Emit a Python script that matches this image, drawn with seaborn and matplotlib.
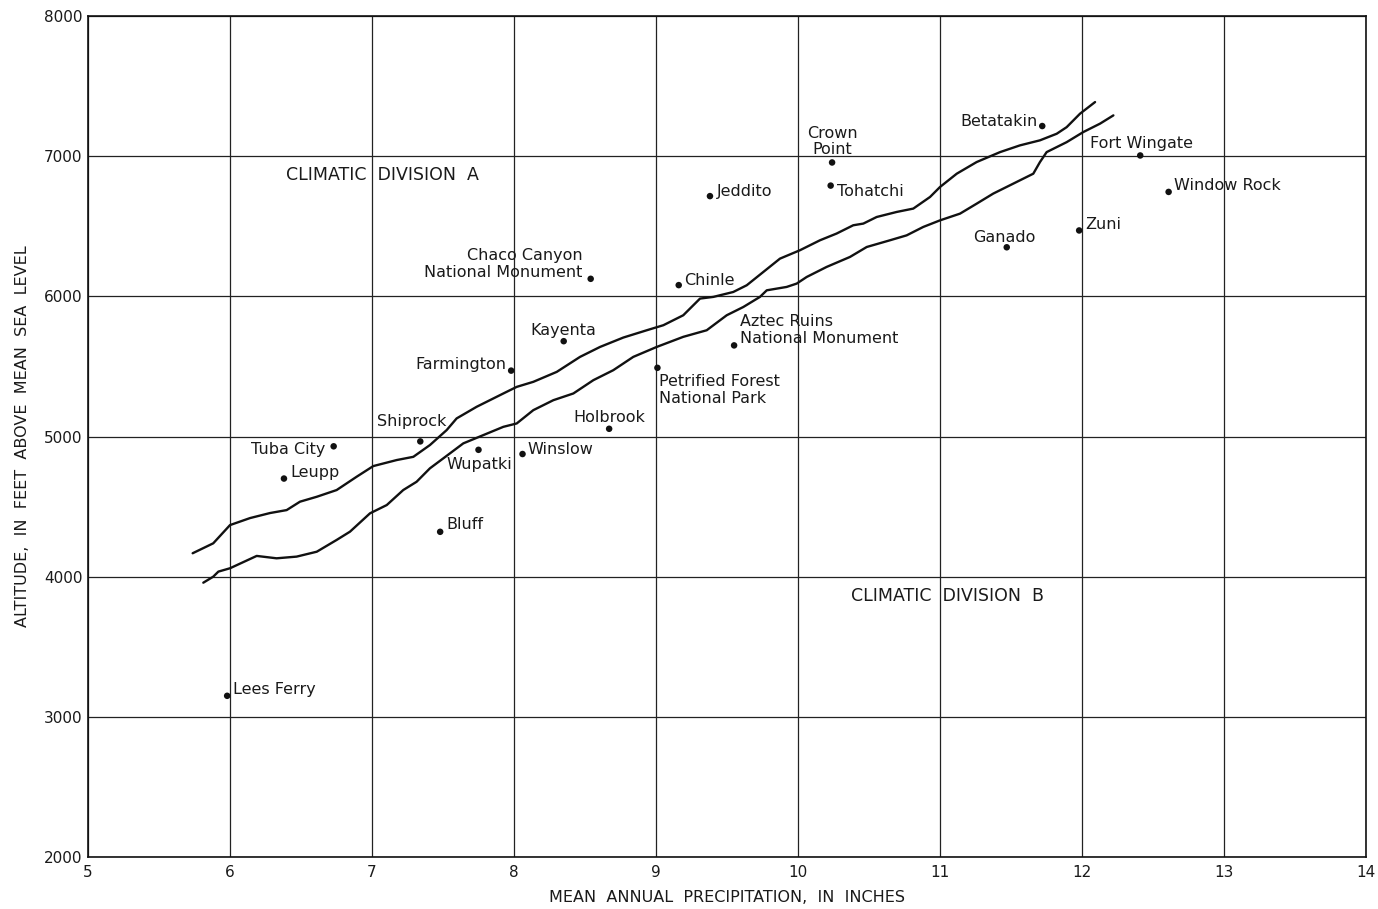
import matplotlib
matplotlib.use("Agg")
import matplotlib.pyplot as plt
import seaborn as sns
import pandas as pd

# Weather stations: mean annual precipitation (inches) and altitude (feet)
stations = ["Lees Ferry", "Tuba City", "Leupp", "Shiprock", "Wupatki", "Winslow",
            "Bluff", "Holbrook", "Farmington", "Kayenta", "Chaco Canyon\nNational Monument",
            "Chinle", "Petrified Forest\nNational Park", "Aztec Ruins\nNational Monument",
            "Jeddito", "Crown\nPoint", "Tohatchi", "Betatakin", "Fort Wingate",
            "Window Rock", "Zuni", "Ganado"]
precip = [5.98, 6.73, 6.38, 7.34, 7.75, 8.06, 7.48, 8.67, 7.98, 8.35, 8.54,
          9.16, 9.01, 9.55, 9.38, 10.24, 10.23, 11.72, 12.41, 12.61, 11.98, 11.47]
altitude = [3150, 4930, 4700, 4965, 4905, 4875, 4320, 5055, 5470, 5680, 6125,
            6080, 5490, 5650, 6715, 6955, 6790, 7215, 7005, 6745, 6470, 6350]

# Boundary band between climatic divisions A and B
upper_x = [5.737, 5.882, 6.000, 6.141, 6.282, 6.399, 6.493, 6.611, 6.751, 6.892,
           7.009, 7.174, 7.291, 7.408, 7.526, 7.596, 7.737, 7.925, 8.019, 8.136,
           8.301, 8.465, 8.606, 8.770, 8.935, 9.052, 9.192, 9.310, 9.404, 9.544,
           9.639, 9.756, 9.873, 10.014, 10.155, 10.272, 10.389, 10.460, 10.554,
           10.695, 10.812, 10.930, 11.000, 11.118, 11.258, 11.423, 11.563, 11.704,
           11.822, 11.892, 11.986, 12.092]
upper_y = [4167, 4238, 4368, 4418, 4454, 4475, 4535, 4570, 4618, 4713,
           4789, 4832, 4855, 4939, 5046, 5129, 5212, 5307, 5354, 5390,
           5461, 5568, 5639, 5706, 5758, 5794, 5865, 5984, 5996, 6031,
           6079, 6174, 6269, 6329, 6400, 6448, 6507, 6519, 6566,
           6602, 6626, 6709, 6780, 6875, 6958, 7029, 7077, 7113,
           7160, 7207, 7303, 7386]
lower_x = [5.812, 5.882, 5.918, 6.000, 6.188, 6.328, 6.469, 6.611, 6.751, 6.845,
           6.986, 7.104, 7.220, 7.314, 7.408, 7.502, 7.643, 7.784, 7.925, 8.019,
           8.136, 8.277, 8.418, 8.559, 8.699, 8.840, 9.005, 9.192, 9.357, 9.498,
           9.615, 9.732, 9.780, 9.920, 9.991, 10.061, 10.202, 10.366, 10.484,
           10.648, 10.765, 10.882, 11.000, 11.141, 11.258, 11.375, 11.516, 11.657,
           11.704, 11.751, 11.892, 12.009, 12.127, 12.221]
lower_y = [3957, 4000, 4036, 4060, 4148, 4131, 4143, 4178, 4262, 4321,
           4452, 4511, 4618, 4677, 4773, 4844, 4951, 5010, 5069, 5093,
           5188, 5259, 5307, 5402, 5473, 5568, 5639, 5711, 5758, 5865,
           5924, 5996, 6043, 6067, 6091, 6138, 6210, 6281, 6352,
           6400, 6435, 6495, 6542, 6590, 6661, 6733, 6804, 6875,
           6958, 7029, 7100, 7172, 7232, 7291]

x_ticks = [5, 6, 7, 8, 9, 10, 11, 12, 13, 14]
y_ticks = [2000, 3000, 4000, 5000, 6000, 7000, 8000]

# Label placement: (dx, dy) in pixels from the station dot, horizontal alignment
label_style = {
    "Lees Ferry": (6, 6, "left"),
    "Tuba City": (-8, -3, "right"),
    "Leupp": (6, 6, "left"),
    "Shiprock": (-9, 20, "center"),
    "Wupatki": (1, -15, "center"),
    "Winslow": (5, 5, "left"),
    "Bluff": (6, 7, "left"),
    "Holbrook": (0, 11, "center"),
    "Farmington": (-5, 6, "right"),
    "Kayenta": (0, 11, "center"),
    "Chaco Canyon\nNational Monument": (-8, 15, "right"),
    "Chinle": (5, 5, "left"),
    "Petrified Forest\nNational Park": (2, -22, "left"),
    "Aztec Ruins\nNational Monument": (6, 15, "left"),
    "Jeddito": (7, 5, "left"),
    "Crown\nPoint": (0, 21, "center"),
    "Tohatchi": (6, -6, "left"),
    "Betatakin": (-5, 5, "right"),
    "Fort Wingate": (1, 12, "center"),
    "Window Rock": (5, 6, "left"),
    "Zuni": (6, 6, "left"),
    "Ganado": (-2, 10, "center"),
}

sns.set_theme(style="white")
plt.rcParams["font.family"] = ["DejaVu Sans"]
plt.rcParams["text.color"] = "#1a1a1a"

fig = plt.figure(figsize=(13.78, 9.09), dpi=100)
ax = fig.add_axes([88 / 1378, 52 / 909, 1278 / 1378, 841 / 909])

band_upper = pd.DataFrame({"x": upper_x, "y": upper_y})
band_lower = pd.DataFrame({"x": lower_x, "y": lower_y})
sns.lineplot(data=band_upper, x="x", y="y", sort=False, color="#111111", lw=1.7, ax=ax)
sns.lineplot(data=band_lower, x="x", y="y", sort=False, color="#111111", lw=1.7, ax=ax)

df = pd.DataFrame({"station": stations, "precip": precip, "altitude": altitude})
sns.scatterplot(data=df, x="precip", y="altitude", color="#111111", s=22,
                edgecolor="none", ax=ax, zorder=5)

for name, px, alt in zip(stations, precip, altitude):
    dx, dy, ha = label_style[name]
    ax.annotate(name, (px, alt), xytext=(dx, dy), textcoords="offset pixels",
                ha=ha, va="center", multialignment=ha, fontsize=11.5,
                linespacing=1.15, color="#1a1a1a")

ax.text(7.07, 6863, "CLIMATIC  DIVISION  A", ha="center", va="center",
        fontsize=12.5, color="#1a1a1a")
ax.text(11.056, 3862, "CLIMATIC  DIVISION  B", ha="center", va="center",
        fontsize=12.5, color="#1a1a1a")

ax.set_xlim(5, 14)
ax.set_ylim(2000, 8000)
ax.set_xticks(x_ticks)
ax.set_yticks(y_ticks)
ax.set_xticklabels([str(v) for v in x_ticks])
ax.set_yticklabels([str(v) for v in y_ticks])
ax.tick_params(axis="both", length=0, labelsize=11, colors="#1a1a1a")
ax.tick_params(axis="x", pad=6)
ax.tick_params(axis="y", pad=4)

ax.grid(True, color="#222222", lw=0.9)
ax.set_axisbelow(True)
for sp in ax.spines.values():
    sp.set_color("#111111")
    sp.set_linewidth(1.2)

ax.set_xlabel("MEAN  ANNUAL  PRECIPITATION,  IN  INCHES", fontsize=11.5,
              color="#1a1a1a", labelpad=7)
ax.set_ylabel("ALTITUDE,  IN  FEET  ABOVE  MEAN  SEA  LEVEL", fontsize=11.5,
              color="#1a1a1a", labelpad=10)

fig.savefig("out.png", dpi=100, facecolor="white")
